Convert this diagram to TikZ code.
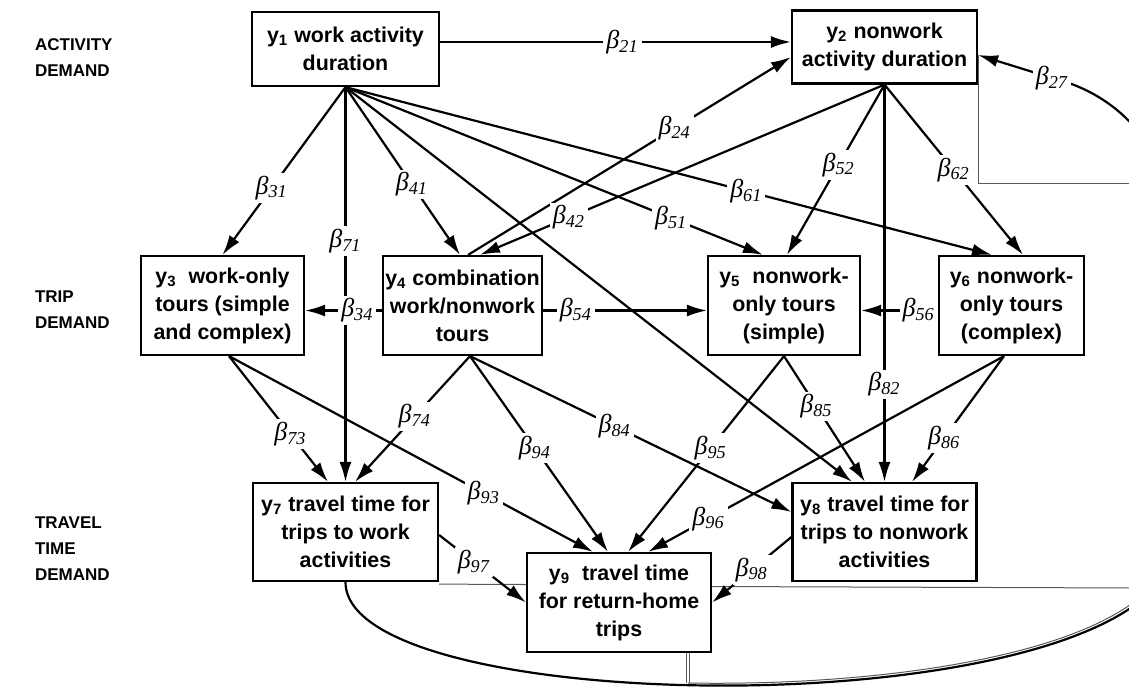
\documentclass[tikz,border=0pt]{standalone}
\usepackage{fontspec}
\setmainfont{Liberation Sans}
\newfontfamily\grkfont{Liberation Serif}
\usetikzlibrary{arrows.meta}
\newcommand{\coef}[1]{{\grkfont\itshape β\textsubscript{#1}}}
\tikzset{
  varbox/.style={draw, fill=white, line width=1.1pt, align=center, inner sep=1pt,
    font=\bfseries\fontsize{10.7}{14}\selectfont},
  lbl/.style={fill=white, inner sep=1.5pt, font=\fontsize{13}{13}\selectfont},
  conn/.style={line width=1.1pt, -{Latex[length=10pt,width=6pt]}},
  thinline/.style={line width=0.5pt, black!65},
  level/.style={align=left, anchor=west, font=\bfseries\fontsize{8.5}{13}\selectfont}
}
\begin{document}
\begin{tikzpicture}[x=0.5pt,y=-0.5pt]
  \useasboundingbox (0,0) rectangle (1129,687);
  \clip (0,0) rectangle (1129,687);

  \node[level] (act) at (28,58) {ACTIVITY\\DEMAND};
  \node[level] (trip) at (28,310) {TRIP\\DEMAND};
  \node[level] (trav) at (28,549) {TRAVEL\\TIME\\DEMAND};

  \node[varbox, minimum width=93.5pt, minimum height=37pt] (y1) at (345.5,49) {y\textsubscript{1} work activity\\duration};
  \node[varbox, minimum width=92.5pt, minimum height=36.5pt] (y2) at (884.5,47) {y\textsubscript{2} nonwork\\activity duration};
  \node[varbox, minimum width=81.5pt, minimum height=49.5pt] (y3) at (222.5,305.5) {y\textsubscript{3}\ \ work-only\\tours (simple\\and complex)};
  \node[varbox, minimum width=79.5pt, minimum height=49.5pt] (y4) at (462.5,305.5) {y\textsubscript{4} combination\\work/nonwork\\tours};
  \node[varbox, minimum width=76pt, minimum height=49.5pt] (y5) at (784,305.5) {y\textsubscript{5}\ \ nonwork-\\only tours\\(simple)};
  \node[varbox, minimum width=72.5pt, minimum height=49.5pt] (y6) at (1011.5,305.5) {y\textsubscript{6} nonwork-\\only tours\\(complex)};
  \node[varbox, minimum width=92.5pt, minimum height=49pt] (y7) at (345.5,532) {y\textsubscript{7} travel time for\\trips to work\\activities};
  \node[varbox, minimum width=92pt, minimum height=49pt] (y8) at (884.5,532) {y\textsubscript{8} travel time for\\trips to nonwork\\activities};
  \node[varbox, minimum width=92pt, minimum height=49.5pt] (y9) at (619,602.5) {y\textsubscript{9}\ \ travel time\\for return-home\\trips};

  \coordinate (edgeT) at (1140,183);
  \coordinate (edgeR) at (1140,588);
  \coordinate (b27) at (1052,78);
  \coordinate (loopin) at (688,683);

  \draw[thinline] ([yshift=-4pt]y2.east) |- (edgeT);
  \draw[thinline] ([yshift=-1pt]y7.south east) -- ([yshift=9pt]y9.west);
  \draw[thinline] ([yshift=8pt]y9.east) -- (edgeR);
  \draw[thinline, double, double distance=1.2pt] ([xshift=34.5pt]y9.south) -- (loopin);
  \draw[thinline] (loopin) .. controls (917,687) and (1171,643) .. (1171,540);
  \draw[conn] (y7.south) .. controls (345.5,725) and (1175,728) .. (1175,540) -- (1175,250)
    .. controls (1175,140) and (1110,92) .. (b27) -- ([yshift=-4pt]y2.east);
  \node[lbl] (l27) at (b27) {\coef{27}};

  \draw[conn] (y1.south) -- (y3.north) node[lbl,pos=0.6] (l31) {\coef{31}};
  \draw[conn] (y1.south) -- (y7.north) node[lbl,pos=0.39] (l71) {\coef{71}};
  \draw[conn] (y1.south) -- ([xshift=-1.25pt]y4.north) node[lbl,pos=0.58] (l41) {\coef{41}};
  \draw[conn] (y1.south) -- ([xshift=-10.5pt]y5.north) node[lbl,pos=0.78] (l51) {\coef{51}};
  \draw[conn] (y1.south) -- ([xshift=-9.75pt]y6.north) node[lbl,pos=0.62] (l61) {\coef{61}};
  \draw[conn] (y1.south) -- ([xshift=-16.25pt]y8.north);
  \draw[conn] ([yshift=3.5pt]y1.east) -- ([yshift=2.5pt]y2.west) node[lbl,pos=0.52] (l21) {\coef{21}};
  \draw[conn] ([xshift=2.75pt]y4.north) -- ([yshift=-5pt]y2.west) node[lbl,pos=0.64] (l24) {\coef{24}};
  \draw[conn] (y2.south) -- ([xshift=8.75pt]y4.north) node[lbl,pos=0.78] (l42) {\coef{42}};
  \draw[conn] (y2.south) -- ([xshift=1.5pt]y5.north) node[lbl,pos=0.47] (l52) {\coef{52}};
  \draw[conn] (y2.south) -- ([xshift=5.75pt]y6.north) node[lbl,pos=0.5] (l62) {\coef{62}};
  \draw[conn] (y2.south) -- (y8.north) node[lbl,pos=0.755] (l82) {\coef{82}};
  \draw[conn] ([yshift=-2.5pt]y4.west) -- ([yshift=-2.5pt]y3.east) node[lbl,pos=0.32] (l34) {\coef{34}};
  \draw[conn] ([yshift=-2.5pt]y4.east) -- ([yshift=-2.5pt]y5.west) node[lbl,pos=0.2] (l54) {\coef{54}};
  \draw[conn] ([yshift=-2.5pt]y6.west) -- ([yshift=-2.5pt]y5.east) node[lbl,pos=0.25] (l56) {\coef{56}};

  \draw[conn] ([xshift=3.25pt]y3.south) -- ([xshift=-8.75pt]y7.north) node[lbl,pos=0.62] (l73) {\coef{73}};
  \draw[conn] ([xshift=3.25pt]y3.south) -- ([xshift=-13pt]y9.north) node[lbl,pos=0.7] (l93) {\coef{93}};
  \draw[conn] ([xshift=3.75pt]y4.south) -- ([xshift=4.75pt]y7.north) node[lbl,pos=0.48] (l74) {\coef{74}};
  \draw[conn] ([xshift=3.75pt]y4.south) -- ([xshift=-5.5pt]y9.north) node[lbl,pos=0.47] (l94) {\coef{94}};
  \draw[conn] ([xshift=3.75pt]y4.south) -- ([yshift=10pt]y8.west) node[lbl,pos=0.45] (l84) {\coef{84}};
  \draw[conn] (y5.south) -- ([xshift=4.5pt]y9.north) node[lbl,pos=0.47] (l95) {\coef{95}};
  \draw[conn] (y5.south) -- ([xshift=-9.75pt]y8.north) node[lbl,pos=0.4] (l85) {\coef{85}};
  \draw[conn] ([xshift=-3.75pt]y6.south) -- ([xshift=14.5pt]y9.north) node[lbl,pos=0.83] (l96) {\coef{96}};
  \draw[conn] ([xshift=-3.75pt]y6.south) -- ([xshift=13.75pt]y8.north) node[lbl,pos=0.65] (l86) {\coef{86}};
  \draw[conn] ([yshift=-1.5pt]y7.east) -- (y9.west) node[lbl,pos=0.4] (l97) {\coef{97}};
  \draw[conn] ([yshift=-2.5pt]y8.west) -- (y9.east) node[lbl,pos=0.5] (l98) {\coef{98}};
\end{tikzpicture}
\end{document}
